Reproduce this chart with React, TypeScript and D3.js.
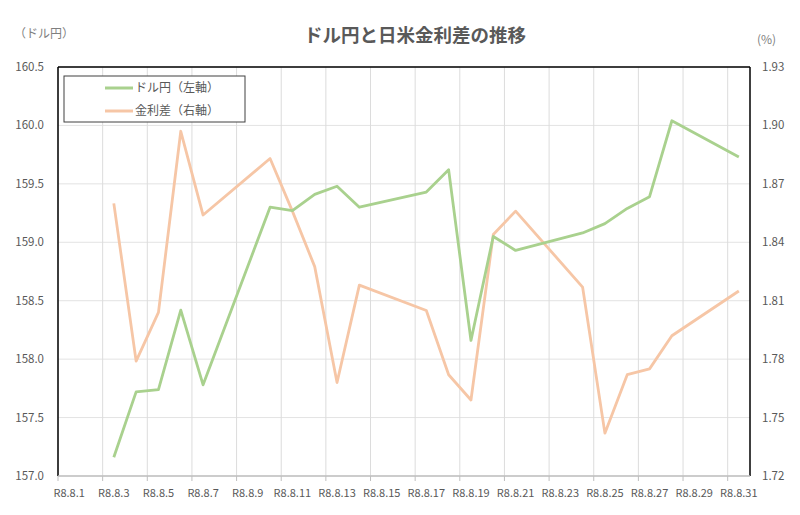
import React from 'react';
import * as d3 from 'd3';

// days of August (R8 = 2026) that have values
const days = [3, 4, 5, 6, 7, 10, 11, 12, 13, 14, 17, 18, 19, 20, 21, 24, 25, 26, 27, 28, 31];
// ドル円 (left axis)
const usdJpy = [157.16, 157.72, 157.74, 158.42, 157.78, 159.3, 159.27, 159.41, 159.48, 159.3, 159.43, 159.62, 158.16, 159.05, 158.93, 159.08, 159.16, 159.29, 159.39, 160.04, 159.73];
// 金利差 (right axis)
const spread = [1.86, 1.779, 1.804, 1.897, 1.854, 1.883, 1.856, 1.8275, 1.768, 1.818, 1.805, 1.772, 1.759, 1.844, 1.856, 1.817, 1.742, 1.772, 1.775, 1.792, 1.815];

const leftTicks = [157.0, 157.5, 158.0, 158.5, 159.0, 159.5, 160.0, 160.5];
const rightTicks = [1.72, 1.75, 1.78, 1.81, 1.84, 1.87, 1.9, 1.93];
const labelDays = [1, 3, 5, 7, 9, 11, 13, 15, 17, 19, 21, 23, 25, 27, 29, 31];

const title = 'ドル円と日米金利差の推移';
const seriesNames = ['ドル円（左軸）', '金利差（右軸）'];
const colors = ['#a9d18e', '#f6c6a6'];

const W = 800;
const H = 515;
const margin = { top: 67, right: 50, bottom: 39, left: 58 };
const font = '"Noto Sans CJK JP", "Noto Sans", sans-serif';
const txt = '#595959';

export default function App() {
  const innerW = W - margin.left - margin.right;
  const innerH = H - margin.top - margin.bottom;

  // one slot per day, 1..31
  const x = d3.scaleLinear().domain([1, 32]).range([0, innerW]);
  const xc = (d: number) => x(d + 0.5);
  const yL = d3.scaleLinear().domain([157, 160.5]).range([innerH, 0]);
  const yR = d3.scaleLinear().domain([1.72, 1.93]).range([innerH, 0]);

  const lineL = d3
    .line<number>()
    .x((_, i) => xc(days[i]))
    .y(v => yL(v));
  const lineR = d3
    .line<number>()
    .x((_, i) => xc(days[i]))
    .y(v => yR(v));

  return (
    <svg
      width={W}
      height={H}
      style={{ position: 'absolute', left: 0, top: 0, background: '#fff' }}
      fontFamily={font}
    >
      <text x={415} y={42} textAnchor='middle' fontSize={18.5} fontWeight='bold' fill={txt}>
        {title}
      </text>
      <text x={14} y={38} fontSize={12} fill='#7f7f7f'>
        （ドル円）
      </text>
      <text x={757} y={44} fontSize={12} fill='#7f7f7f'>
        (%)
      </text>

      <g transform={`translate(${margin.left},${margin.top})`}>
        {/* horizontal grid */}
        {leftTicks.map(t => (
          <line key={'h' + t} x1={0} x2={innerW} y1={yL(t)} y2={yL(t)} stroke='#e3e3e3' strokeWidth={1} />
        ))}
        {/* vertical grid */}
        {labelDays.map(d => (
          <line key={'v' + d} x1={x(d)} x2={x(d)} y1={0} y2={innerH} stroke='#dcdcdc' strokeWidth={1} />
        ))}

        {/* border */}
        <line x1={0} x2={innerW} y1={0} y2={0} stroke='#000' strokeWidth={1.5} />
        <line x1={0} x2={0} y1={0} y2={innerH} stroke='#000' strokeWidth={1.5} />
        <line x1={innerW} x2={innerW} y1={0} y2={innerH} stroke='#000' strokeWidth={1.5} />
        <line x1={0} x2={innerW} y1={innerH} y2={innerH} stroke='#bfbfbf' strokeWidth={1.5} />
        {labelDays.map(d => (
          <line key={'t' + d} x1={x(d)} x2={x(d)} y1={innerH} y2={innerH + 5} stroke='#bfbfbf' />
        ))}

        {/* series */}
        <path d={lineR(spread) ?? ''} fill='none' stroke={colors[1]} strokeWidth={2.8} strokeLinejoin='round' />
        <path d={lineL(usdJpy) ?? ''} fill='none' stroke={colors[0]} strokeWidth={2.8} strokeLinejoin='round' />

        {/* axes labels */}
        {leftTicks.map(t => (
          <text key={'l' + t} x={-14} y={yL(t)} dy='0.35em' textAnchor='end' fontSize={11.5} fill={txt}>
            {d3.format('.1f')(t)}
          </text>
        ))}
        {rightTicks.map(t => (
          <text key={'r' + t} x={innerW + 12} y={yR(t)} dy='0.35em' fontSize={11.5} fill={txt}>
            {d3.format('.2f')(t)}
          </text>
        ))}
        {labelDays.map(d => (
          <text key={'x' + d} x={xc(d)} y={innerH + 21} textAnchor='middle' fontSize={11} fill={txt}>
            {`R8.8.${d}`}
          </text>
        ))}

        {/* legend */}
        <g transform='translate(6,9)'>
          <rect x={0} y={0} width={181} height={46} fill='#fff' stroke='#404040' strokeWidth={1} />
          {seriesNames.map((n, i) => (
            <g key={n} transform={`translate(0,${12 + i * 23})`}>
              <line x1={41} x2={69} y1={0} y2={0} stroke={colors[i]} strokeWidth={3} />
              <text x={71} y={0} dy='0.35em' fontSize={12} fill={txt}>
                {n}
              </text>
            </g>
          ))}
        </g>
      </g>
    </svg>
  );
}
